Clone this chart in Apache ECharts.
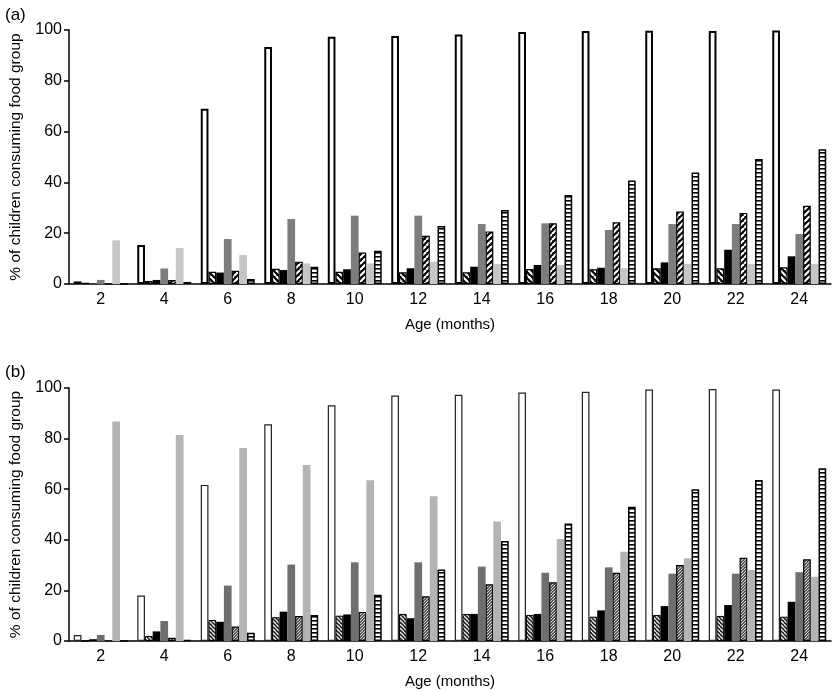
<!DOCTYPE html>
<html>
<head>
<meta charset="utf-8">
<script src="https://cdn.jsdelivr.net/npm/echarts@6/dist/echarts.min.js"></script>
<style>
html,body{margin:0;padding:0;background:#fff;}
#chart{width:832px;height:690px;}
</style>
</head>
<body>
<div id="chart"></div>
<script>
// ---- data ----
const ages = ['2','4','6','8','10','12','14','16','18','20','22','24'];
const yTicks = [0, 20, 40, 60, 80, 100];

// Panel (a)
const aWhite   = [1, 15.4, 69, 93.3, 97.3, 97.6, 98.2, 99.2, 99.6, 99.7, 99.6, 99.8];
const aHatchA  = [0.5, 1.2, 4.8, 6, 4.8, 4.6, 4.6, 5.9, 5.8, 6.2, 6.2, 6.6];
const aBlack   = [0, 1.6, 4.5, 5.5, 5.8, 6.2, 6.8, 7.5, 6.4, 8.5, 13.5, 10.9];
const aGray    = [1.6, 6.1, 17.7, 25.6, 26.9, 26.9, 23.6, 23.9, 21.3, 23.6, 23.6, 19.7];
const aHatchB  = [0, 1.6, 5.2, 8.8, 12.4, 19, 20.7, 23.9, 24.3, 28.5, 28, 30.8];
const aLight   = [17.2, 14.2, 11.4, 8.1, 8.1, 8.8, 7.9, 7.5, 6.2, 7.9, 7.9, 7.9];
const aStripes = [0, 0.8, 2, 6.8, 13.1, 22.8, 29.1, 35, 40.7, 43.9, 49.2, 53.1];

// Panel (b)
const bWhite   = [2.4, 18, 61.7, 85.7, 93.2, 97, 97.3, 98.2, 98.5, 99.4, 99.6, 99.4];
const bHatchA  = [0, 2, 8.3, 9.4, 10, 10.7, 10.7, 10.3, 9.6, 10.3, 9.9, 9.6];
const bBlack   = [0.7, 3.8, 7.6, 11.6, 10.5, 9, 10.7, 10.7, 12.1, 13.8, 14.2, 15.5];
const bGray    = [2.4, 7.9, 21.9, 30.2, 31.1, 31.1, 29.4, 27, 29.1, 26.6, 26.6, 27.2];
const bHatchB  = [0, 1.3, 5.7, 9.9, 11.5, 17.7, 22.4, 23.2, 27, 30, 32.9, 32.3];
const bLight   = [86.8, 81.4, 76.3, 69.6, 63.5, 57.2, 47.2, 40.3, 35.3, 32.7, 28.1, 25.4];
const bStripes = [0, 0.4, 3.3, 10.3, 18.3, 28.3, 39.5, 46.4, 53.1, 60, 63.6, 68.3];

// ---- patterns ----
function makePattern(size, draw) {
  const c = document.createElement('canvas');
  c.width = size; c.height = size;
  const ctx = c.getContext('2d');
  draw(ctx, size);
  return { image: c, repeat: 'repeat' };
}
function diag(size, dir, bg, fg, lw) {
  return makePattern(size, (ctx, s) => {
    ctx.fillStyle = bg; ctx.fillRect(0, 0, s, s);
    ctx.strokeStyle = fg; ctx.lineWidth = lw;
    for (let k = -s; k <= s; k += s) {
      ctx.beginPath();
      if (dir === 'back') { ctx.moveTo(k, 0); ctx.lineTo(k + s, s); }
      else { ctx.moveTo(k, s); ctx.lineTo(k + s, 0); }
      ctx.stroke();
    }
  });
}
function hstripes(size, bg, fg, lw) {
  return makePattern(size, (ctx, s) => {
    ctx.fillStyle = bg; ctx.fillRect(0, 0, s, s);
    ctx.fillStyle = fg; ctx.fillRect(0, 0, s, lw);
  });
}

const pA_back = diag(6, 'back', '#000', '#fff', 2.2);
const pA_fwd  = diag(6, 'fwd', '#000', '#fff', 2.2);
const pA_str  = hstripes(4, '#fff', '#000', 1.6);
const pB_back = diag(4, 'back', '#222', '#eee', 1.3);
const pB_fwd  = diag(3, 'fwd', '#333', '#ddd', 1.1);
const pB_str  = hstripes(4, '#fff', '#000', 1.6);

const base = { type: 'bar', barGap: '0%', barCategoryGap: '15%', animation: false, silent: true };

function panelSeries(idx, vals, styles) {
  return vals.map((v, i) => Object.assign({}, base, {
    xAxisIndex: idx, yAxisIndex: idx, data: v, itemStyle: styles[i]
  }));
}

const stylesA = [
  { color: '#fff', borderColor: '#000', borderWidth: 2 },
  { color: pA_back, borderColor: '#000', borderWidth: 1.2 },
  { color: '#000' },
  { color: '#7d7d7d' },
  { color: pA_fwd, borderColor: '#000', borderWidth: 1.2 },
  { color: '#c6c6c6' },
  { color: pA_str, borderColor: '#000', borderWidth: 1.5 }
];
const stylesB = [
  { color: '#fff', borderColor: '#222', borderWidth: 1.2 },
  { color: pB_back, borderColor: '#000', borderWidth: 1 },
  { color: '#000' },
  { color: '#6f6f6f' },
  { color: pB_fwd, borderColor: '#000', borderWidth: 1.2 },
  { color: '#b4b4b4' },
  { color: pB_str, borderColor: '#000', borderWidth: 1.5 }
];

const font = 'Liberation Sans, Arial, Helvetica, sans-serif';

function xAxis(gi) {
  return {
    type: 'category', gridIndex: gi, data: ages,
    name: 'Age (months)', nameLocation: 'middle', nameGap: 33,
    nameTextStyle: { fontFamily: font, fontSize: 15, color: '#000' },
    axisLine: { lineStyle: { color: '#000', width: 1.5 } },
    axisTick: { inside: true, length: 5, lineStyle: { color: '#000', width: 1.5 } },
    axisLabel: { fontFamily: font, fontSize: 16, color: '#000', margin: 8 }
  };
}
function yAxis(gi) {
  return {
    type: 'value', gridIndex: gi, min: yTicks[0], max: yTicks[yTicks.length - 1], interval: 20,
    name: '% of children consuming food group', nameLocation: 'middle', nameGap: 45,
    nameTextStyle: { fontFamily: font, fontSize: 15.5, color: '#000' },
    axisLine: { show: true, lineStyle: { color: '#000', width: 1.5 } },
    axisTick: { show: true, length: 5, lineStyle: { color: '#000', width: 1.5 } },
    axisLabel: { fontFamily: font, fontSize: 16, color: '#000', margin: 7 },
    splitLine: { show: false }
  };
}

const chart = echarts.init(document.getElementById('chart'), null, { renderer: 'canvas' });
chart.setOption({
  backgroundColor: '#fff',
  title: [
    { text: '(a)', left: 0, top: 2, textStyle: { fontFamily: font, fontSize: 17, fontWeight: 'normal', color: '#000' } },
    { text: '(b)', left: 0, top: 359, textStyle: { fontFamily: font, fontSize: 17, fontWeight: 'normal', color: '#000' } }
  ],
  grid: [
    { left: 64, top: 30, width: 767, height: 254 },
    { left: 64, top: 388, width: 767, height: 253 }
  ],
  xAxis: [xAxis(0), xAxis(1)],
  yAxis: [yAxis(0), yAxis(1)],
  series: [
    ...panelSeries(0, [aWhite, aHatchA, aBlack, aGray, aHatchB, aLight, aStripes], stylesA),
    ...panelSeries(1, [bWhite, bHatchA, bBlack, bGray, bHatchB, bLight, bStripes], stylesB)
  ]
});
</script>
</body>
</html>
